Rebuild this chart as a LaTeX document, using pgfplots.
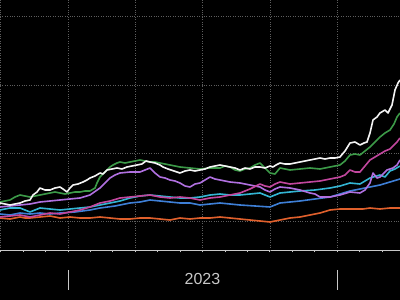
\documentclass[border=0pt]{standalone}
\usepackage{pgfplots}
\pgfplotsset{compat=1.18}
\usepackage{fontspec}
\setmainfont{Liberation Sans}
\definecolor{cwhite}{HTML}{F4F4F4}
\definecolor{cgreen}{HTML}{3C9A48}
\definecolor{cmag}{HTML}{C2479E}
\definecolor{cviol}{HTML}{B070E0}
\definecolor{ccyan}{HTML}{33B5D3}
\definecolor{cblue}{HTML}{3E7FD6}
\definecolor{corange}{HTML}{E0602C}
\definecolor{cgrid}{HTML}{5E5E5E}
\definecolor{caxis}{HTML}{C8C8C8}
\begin{document}
\begin{tikzpicture}
\fill[black] (0,0) rectangle (400pt,300pt);
\useasboundingbox (0,0) rectangle (400pt,300pt);
\begin{axis}[
  at={(0pt,50pt)}, anchor=south west,
  width=400pt, height=250pt, scale only axis,
  xmin=0, xmax=400, ymin=0, ymax=250,
  clip=false,
  axis x line*=bottom, axis y line*=left,
  x axis line style={draw=caxis, line width=0.8pt},
  y axis line style={draw=none},
  xtick={23.1,45.6,90.4,112.8,157.7,180.1,225,247.4,292.2,314.7,359.5,381.9},
  xticklabels={},
  extra x ticks={0.7,68,135.3,202.5,269.8,337.1},
  extra x tick labels={},
  extra x tick style={grid=major},
  tick align=outside,
  major tick length=2.5pt,
  xtick style={draw=caxis, line width=0.7pt},
  ytick={29,97,165,234},
  yticklabels={},
  ytick style={draw=none},
  ymajorgrids=true,
  grid style={cgrid, dotted, line width=0.6pt},
  every axis plot/.append style={line width=1.6pt, line join=round},
]
\addplot[corange] table {
0 32
10 31
20 33
25 32
30 32
40 33
50 34
60 32
70 33
80 32
90 32
100 33
110 32
120 31
130 31
140 32
150 32
160 31
170 30
175 31
180 32
190 31
200 32
210 32
220 33
230 32
240 31
250 30
260 29
270 28
280 30
290 32
300 33
310 35
320 37
330 40
340 41
350 41
363 41
370 42
380 41
390 42
400 42
};
\addplot[cblue] table {
0 36
10 35
20 37
30 36
40 37
50 36
60 37
75 38
90 40
100 42
115 44
130 47
140 48
150 50
160 49
170 48
180 47
190 47
200 45
210 46
220 47
230 46
240 45
255 44
270 43
280 47
290 48
300 49
315 51
330 53
340 56
350 59
360 61
370 63
380 65
390 68
400 71
};
\addplot[ccyan] table {
0 40
10 42
20 42
30 38
40 42
50 41
60 40
70 41
80 42
90 43
100 45
110 47
120 49
130 52
140 54
150 55
160 54
170 53
180 52
190 52
200 53
210 55
220 56
230 55
240 55
250 56
260 57
270 53
280 57
290 58
300 59
315 60
330 62
340 64
350 67
360 66
370 72
380 75
385 73
390 79
395 81
400 84
};
\addplot[cviol] table {
0 43
10 44
20 45
30 46
40 48
50 49
60 50
70 51
80 52
90 55
100 62
105 67
110 72
115 75
120 77
130 78
140 78
145 80
150 82
155 77
160 73
165 72
170 70
175 69
180 67
185 64
190 63
195 66
200 67
205 70
210 73
215 71
220 70
230 68
240 67
250 65
260 63
265 60
270 58
275 61
280 63
290 62
300 60
310 57
315 56
320 53
330 53
340 55
350 58
360 57
365 60
370 67
373 77
377 72
380 73
387 80
393 82
397 85
400 90
};
\addplot[cmag] table {
0 33
10 34
20 35
30 33
40 35
50 37
60 36
70 38
80 40
90 43
100 47
110 49
120 52
130 53
140 54
150 55
160 53
170 52
180 53
190 52
200 50
210 52
220 53
230 55
240 57
250 61
260 66
265 64
270 63
275 66
280 68
290 66
300 67
310 68
320 69
330 71
340 73
345 75
350 80
355 78
360 78
365 84
370 90
375 93
380 96
385 99
390 101
397 108
400 112
};
\addplot[cgreen] table {
0 48
5 49
10 50
15 53
20 55
25 54
30 53
35 54
40 55
45 56
50 57
55 58
60 57
65 56
70 57
75 58
80 58
85 59
90 59
95 62
97 67
100 73
104 77
107 80
110 83
113 85
117 87
120 88
125 87
130 88
135 89
140 90
145 89
150 88
155 88
160 87
170 85
180 83
190 82
200 81
210 82
220 82
225 84
230 83
235 80
240 79
245 81
250 82
255 85
260 87
265 82
270 77
275 76
280 82
285 81
290 80
300 81
310 82
320 81
330 83
335 84
340 85
345 89
350 95
355 96
360 95
365 99
370 103
375 108
380 113
385 117
390 120
394 126
397 133
400 137
};
\addplot[cwhite] table {
0 47
5 46
10 45
15 46
20 47
25 49
30 50
33 55
37 58
40 62
45 60
50 60
55 62
60 63
63 61
67 58
70 62
73 65
78 66
83 68
87 70
90 72
95 74
100 77
103 76
107 80
112 81
117 82
122 81
127 83
132 84
137 85
142 86
146 89
150 88
155 87
160 85
163 83
168 81
174 79
180 77
185 79
190 80
195 79
200 80
205 81
210 83
215 84
220 85
225 84
230 83
235 82
240 80
245 82
250 81
255 83
260 83
265 82
270 84
273 83
276 85
280 87
285 86
290 86
295 87
300 88
305 89
310 90
315 91
320 92
325 91
330 92
335 92
340 93
345 99
350 107
355 108
360 105
364 107
367 108
370 117
373 130
377 133
380 137
385 140
388 137
392 145
393 150
395 160
398 167
400 170
};
\draw[caxis, line width=0.8pt] (axis cs:68,-20) -- (axis cs:68,-40);
\draw[caxis, line width=0.8pt] (axis cs:337.1,-20) -- (axis cs:337.1,-40);
\node[text=caxis, font=\fontsize{16}{16}\selectfont] at (axis cs:202.5,-29) {2023};
\end{axis}
\end{tikzpicture}
\end{document}
